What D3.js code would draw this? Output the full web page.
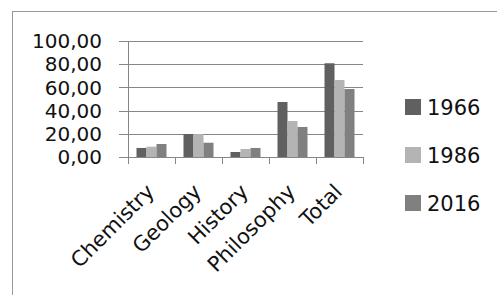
<!DOCTYPE html>
<html>
<head>
<script src='https://d3js.org/d3.v7.min.js'></script>
<style>
  body {margin: 0; background: white;}
  text {font-family: 'DejaVu Sans', sans-serif; fill: #111;}
</style>
</head>
<body>
<svg width=497 height=295></svg>
<script>
// chart data
var subjects = ['Chemistry', 'Geology', 'History', 'Philosophy', 'Total'];
var years = ['1966', '1986', '2016'];
var v1966 = [7.8, 19.8, 4.3, 47.4, 80.8];
var v1986 = [8.9, 19.8, 6.9, 31.0, 66.4];
var v2016 = [11.2, 12.3, 7.8, 25.9, 58.6];
var yTicks = [0, 20, 40, 60, 80, 100];
var colors = ['#606060', '#b4b4b4', '#808080'];

var series = [v1966, v1986, v2016];
var data = subjects.map(function(s, i) {
  return {name: s, vals: years.map(function(y, j) { return {year: y, v: series[j][i]}; })};
});

var svg = d3.select('svg');

// outer frame (runs off the page on right and bottom)
svg.append('rect')
  .attr('x', 12.5).attr('y', 11.5)
  .attr('width', 520).attr('height', 320)
  .attr('fill', 'none')
  .attr('stroke', '#999');

var x0 = d3.scaleBand().domain(subjects).range([128, 363]).paddingInner(0).paddingOuter(0);
var x1 = d3.scaleBand().domain(years).range([0, x0.bandwidth()]).paddingInner(0).paddingOuter(0.85);
var y = d3.scaleLinear().domain([0, 100]).range([157, 41]);
var color = d3.scaleOrdinal().domain(years).range(colors);

// gridlines + y labels
svg.append('g')
  .selectAll('line')
  .data(yTicks)
  .enter()
  .append('line')
    .attr('x1', 119).attr('x2', 363)
    .attr('y1', function(d) { return Math.round(y(d)) + 0.5; })
    .attr('y2', function(d) { return Math.round(y(d)) + 0.5; })
    .attr('stroke', '#868686')
    .attr('stroke-width', 1);

svg.append('g')
  .selectAll('text')
  .data(yTicks)
  .enter()
  .append('text')
    .attr('x', 102)
    .attr('y', function(d) { return y(d); })
    .attr('dy', '0.36em')
    .style('text-anchor', 'end')
    .style('font-size', '20px')
    .text(function(d) { return d3.format('.2f')(d).replace('.', ','); });

// y axis line
svg.append('line')
  .attr('x1', 128.5).attr('x2', 128.5)
  .attr('y1', 41).attr('y2', 157)
  .attr('stroke', '#868686');

// bars
svg.append('g')
  .selectAll('g')
  .data(data)
  .enter()
  .append('g')
    .attr('transform', function(d) { return 'translate(' + x0(d.name) + ',0)'; })
  .selectAll('rect')
  .data(function(d) { return d.vals; })
  .enter()
  .append('rect')
    .attr('x', function(d) { return x1(d.year); })
    .attr('y', function(d) { return y(d.v); })
    .attr('width', x1.bandwidth())
    .attr('height', function(d) { return y(0) - y(d.v); })
    .attr('fill', function(d) { return color(d.year); });

// x axis with category ticks
var xa = svg.append('g')
  .attr('transform', 'translate(0,157)')
  .call(d3.axisBottom(x0).tickSize(0).tickFormat(''));
xa.select('.domain').remove();
xa.selectAll('.tick').remove();
xa.append('line')
  .attr('x1', 119).attr('x2', 363)
  .attr('y1', 0.5).attr('y2', 0.5)
  .attr('stroke', '#868686');
xa.selectAll('.sep')
  .data(subjects.concat(['end']))
  .enter()
  .append('line')
    .attr('class', 'sep')
    .attr('x1', function(d, i) { return Math.round(x0.range()[0] + i * x0.step()) + 0.5; })
    .attr('x2', function(d, i) { return Math.round(x0.range()[0] + i * x0.step()) + 0.5; })
    .attr('y1', 0).attr('y2', 7)
    .attr('stroke', '#868686');

// rotated category labels
svg.append('g')
  .selectAll('text')
  .data(subjects)
  .enter()
  .append('text')
    .attr('transform', function(d) {
      return 'translate(' + (x0(d) + x0.bandwidth() / 2 + 4) + ',193) rotate(-45)';
    })
    .style('text-anchor', 'end')
    .style('font-size', '21px')
    .text(function(d) { return d; });

// legend
var leg = svg.append('g')
  .selectAll('g')
  .data(years)
  .enter()
  .append('g')
    .attr('transform', function(d, i) { return 'translate(405,' + (99 + i * 48) + ')'; });
leg.append('rect')
  .attr('width', 16).attr('height', 16)
  .attr('fill', function(d) { return color(d); });
leg.append('text')
  .attr('x', 22)
  .attr('y', 8)
  .attr('dy', '0.36em')
  .style('font-size', '21px')
  .text(function(d) { return d; });
</script>
</body>
</html>
